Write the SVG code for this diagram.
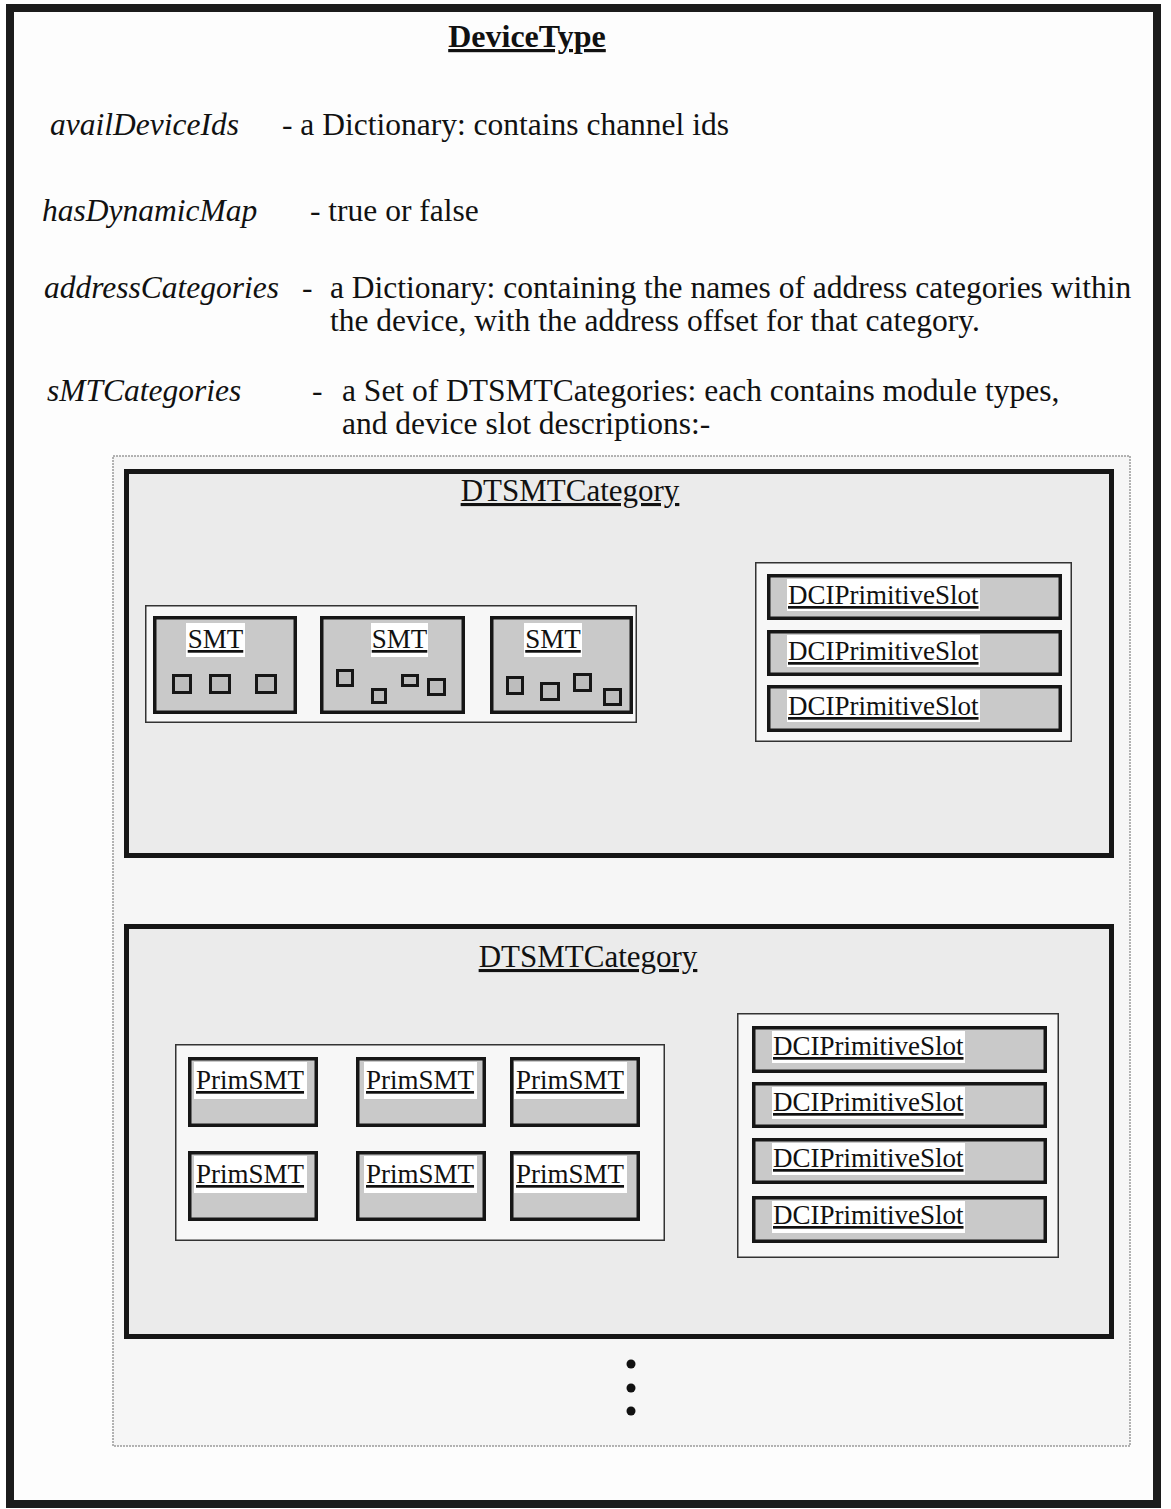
<svg xmlns="http://www.w3.org/2000/svg" width="1171" height="1509" viewBox="0 0 1171 1509">
  <style>
    .body { font-family: "Liberation Serif", "Times New Roman", serif; font-size: 31.5px; fill: #111; }
    .it { font-style: italic; }
    .title { font-family: "Liberation Serif", "Times New Roman", serif; font-size: 32px; font-weight: bold; fill: #111; text-decoration: underline; }
    .cat-title { font-family: "Liberation Serif", "Times New Roman", serif; font-size: 31px; fill: #111; text-decoration: underline; }
    .lbl { font-family: "Liberation Serif", "Times New Roman", serif; font-size: 27px; fill: #111; text-decoration: underline; }
    .frame { fill: #fdfdfd; stroke: #1c1c1c; stroke-width: 8; }
    .set { fill: #f6f6f6; stroke: #9a9a9a; stroke-width: 1.5; stroke-dasharray: 2 1; }
    .cat { fill: #ebebeb; stroke: #161616; stroke-width: 5; }
    .grp { fill: #f7f7f7; stroke: #333; stroke-width: 1.5; }
    .box { fill: #c9c9c9; stroke: #161616; stroke-width: 3.5; }
    .sq { fill: #bdbdbd; stroke: #161616; stroke-width: 3; }
    .bg { fill: #ffffff; }
    .dot { fill: #111; }
  </style>

  <!-- page frame -->
  <rect id="frame" class="frame" x="10" y="8" width="1147" height="1496"/>

  <!-- DeviceType heading and attribute list -->
  <g id="device-type">
    <text class="title" x="527" y="47" text-anchor="middle">DeviceType</text>
    <text class="body it" x="50" y="135">availDeviceIds</text>
    <text class="body" x="282" y="135">- a Dictionary: contains channel ids</text>
    <text class="body it" x="42" y="221">hasDynamicMap</text>
    <text class="body" x="310" y="221">- true or false</text>
    <text class="body it" x="44" y="298">addressCategories</text>
    <text class="body" x="302" y="298">-</text>
    <text class="body" x="330" y="298">a Dictionary: containing the names of address categories within</text>
    <text class="body" x="330" y="331">the device, with the address offset for that category.</text>
    <text class="body it" x="47" y="401">sMTCategories</text>
    <text class="body" x="312" y="401">-</text>
    <text class="body" x="342" y="401">a Set of DTSMTCategories: each contains module types,</text>
    <text class="body" x="342" y="434">and device slot descriptions:-</text>
  </g>

  <!-- the set of categories -->
  <g id="smt-categories">
    <rect class="set" x="113" y="456" width="1017" height="990"/>
  </g>

  <!-- first category: SMTs with slots -->
  <g id="category-1">
    <rect class="cat" x="126.5" y="471.5" width="985" height="384"/>
    <text class="cat-title" x="570" y="501" text-anchor="middle">DTSMTCategory</text>

    <g id="smt-group-1">
      <rect class="grp" x="145.75" y="605.75" width="490.5" height="116.5"/>
    </g>
    <g id="smt-1">
      <rect class="box" x="154.75" y="617.75" width="140.5" height="94.5"/>
      <rect class="bg" x="186" y="623" width="59" height="34"/>
      <text class="lbl" x="215.5" y="648" text-anchor="middle">SMT</text>
      <rect class="sq" x="173.5" y="675.5" width="17" height="17"/>
      <rect class="sq" x="210.5" y="675.5" width="19" height="17"/>
      <rect class="sq" x="256.5" y="675.5" width="19" height="17"/>
    </g>
    <g id="smt-2">
      <rect class="box" x="321.75" y="617.75" width="141.5" height="94.5"/>
      <rect class="bg" x="371" y="623" width="57" height="34"/>
      <text class="lbl" x="399.5" y="648" text-anchor="middle">SMT</text>
      <rect class="sq" x="337.5" y="670.5" width="15" height="15"/>
      <rect class="sq" x="372.5" y="689.5" width="13" height="13"/>
      <rect class="sq" x="402.5" y="675.5" width="15" height="10"/>
      <rect class="sq" x="428.5" y="679.5" width="16" height="15"/>
    </g>
    <g id="smt-3">
      <rect class="box" x="491.75" y="617.75" width="139.5" height="94.5"/>
      <rect class="bg" x="524" y="623" width="58" height="34"/>
      <text class="lbl" x="553" y="648" text-anchor="middle">SMT</text>
      <rect class="sq" x="507.5" y="677.5" width="15" height="16"/>
      <rect class="sq" x="541.5" y="683.5" width="17" height="16"/>
      <rect class="sq" x="574.5" y="674.5" width="16" height="16"/>
      <rect class="sq" x="604.5" y="689.5" width="16" height="15"/>
    </g>

    <g id="slot-group-1">
      <rect class="grp" x="755.75" y="562.75" width="315.5" height="178.5"/>
    </g>
    <g id="slot-1-1">
      <rect class="box" x="768.75" y="575.75" width="291.5" height="42.5"/>
      <rect class="bg" x="787" y="579" width="193" height="32"/>
      <text class="lbl" x="788" y="604">DCIPrimitiveSlot</text>
    </g>
    <g id="slot-1-2">
      <rect class="box" x="768.75" y="631.75" width="291.5" height="42.5"/>
      <rect class="bg" x="787" y="635" width="193" height="32"/>
      <text class="lbl" x="788" y="660">DCIPrimitiveSlot</text>
    </g>
    <g id="slot-1-3">
      <rect class="box" x="768.75" y="686.75" width="291.5" height="43.5"/>
      <rect class="bg" x="787" y="690" width="193" height="32"/>
      <text class="lbl" x="788" y="715">DCIPrimitiveSlot</text>
    </g>
  </g>

  <!-- second category: PrimSMTs with slots -->
  <g id="category-2">
    <rect class="cat" x="126.5" y="926.5" width="985" height="410"/>
    <text class="cat-title" x="588" y="967" text-anchor="middle">DTSMTCategory</text>

    <g id="primsmt-group">
      <rect class="grp" x="175.75" y="1044.75" width="488.5" height="195.5"/>
    </g>
    <g id="primsmt-1">
      <rect class="box" x="189.75" y="1058.75" width="126.5" height="66.5"/>
      <rect class="bg" x="194" y="1062" width="113" height="37"/>
      <text class="lbl" x="196" y="1089">PrimSMT</text>
    </g>
    <g id="primsmt-2">
      <rect class="box" x="357.75" y="1058.75" width="126.5" height="66.5"/>
      <rect class="bg" x="364" y="1062" width="113" height="37"/>
      <text class="lbl" x="366" y="1089">PrimSMT</text>
    </g>
    <g id="primsmt-3">
      <rect class="box" x="511.75" y="1058.75" width="126.5" height="66.5"/>
      <rect class="bg" x="514" y="1062" width="113" height="37"/>
      <text class="lbl" x="516" y="1089">PrimSMT</text>
    </g>
    <g id="primsmt-4">
      <rect class="box" x="189.75" y="1152.75" width="126.5" height="66.5"/>
      <rect class="bg" x="194" y="1156" width="113" height="37"/>
      <text class="lbl" x="196" y="1183">PrimSMT</text>
    </g>
    <g id="primsmt-5">
      <rect class="box" x="357.75" y="1152.75" width="126.5" height="66.5"/>
      <rect class="bg" x="364" y="1156" width="113" height="37"/>
      <text class="lbl" x="366" y="1183">PrimSMT</text>
    </g>
    <g id="primsmt-6">
      <rect class="box" x="511.75" y="1152.75" width="126.5" height="66.5"/>
      <rect class="bg" x="514" y="1156" width="113" height="37"/>
      <text class="lbl" x="516" y="1183">PrimSMT</text>
    </g>

    <g id="slot-group-2">
      <rect class="grp" x="737.75" y="1013.75" width="320.5" height="243.5"/>
    </g>
    <g id="slot-2-1">
      <rect class="box" x="753.75" y="1027.75" width="291.5" height="43.5"/>
      <rect class="bg" x="772" y="1031" width="193" height="32"/>
      <text class="lbl" x="773" y="1055">DCIPrimitiveSlot</text>
    </g>
    <g id="slot-2-2">
      <rect class="box" x="753.75" y="1083.75" width="291.5" height="42.5"/>
      <rect class="bg" x="772" y="1087" width="193" height="32"/>
      <text class="lbl" x="773" y="1111">DCIPrimitiveSlot</text>
    </g>
    <g id="slot-2-3">
      <rect class="box" x="753.75" y="1139.75" width="291.5" height="42.5"/>
      <rect class="bg" x="772" y="1143" width="193" height="32"/>
      <text class="lbl" x="773" y="1167">DCIPrimitiveSlot</text>
    </g>
    <g id="slot-2-4">
      <rect class="box" x="753.75" y="1197.75" width="291.5" height="43.5"/>
      <rect class="bg" x="772" y="1201" width="193" height="32"/>
      <text class="lbl" x="773" y="1224">DCIPrimitiveSlot</text>
    </g>
  </g>

  <!-- continuation marks -->
  <g id="more">
    <circle class="dot" cx="631" cy="1364" r="4.5"/>
    <circle class="dot" cx="631" cy="1388" r="4.5"/>
    <circle class="dot" cx="631" cy="1411" r="4.5"/>
  </g>

  <g id="connectors"/>
</svg>
